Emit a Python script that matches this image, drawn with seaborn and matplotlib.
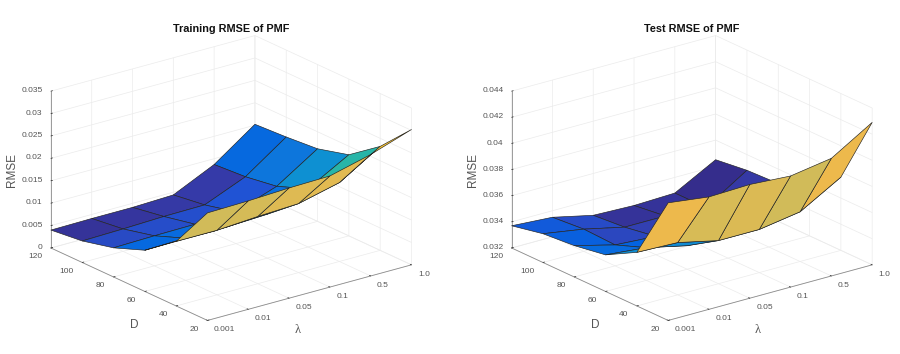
import numpy as np
import seaborn as sns
import matplotlib
matplotlib.use('Agg')
import matplotlib.pyplot as plt
from matplotlib.transforms import ScaledTranslation

lambda_labels = ['0.001', '0.01', '0.05', '0.1', '0.5', '1.0']
d_values = [20, 40, 60, 80, 100, 120]

# one row per D, one column per lambda
train_rmse = [
    [0.0240, 0.0242, 0.0246, 0.0248, 0.0271, 0.0302],
    [0.0144, 0.0144, 0.0150, 0.0154, 0.0176, 0.0232],
    [0.0092, 0.0094, 0.0094, 0.0098, 0.0130, 0.0181],
    [0.0065, 0.0067, 0.0068, 0.0071, 0.0103, 0.0162],
    [0.0048, 0.0050, 0.0053, 0.0054, 0.0092, 0.0156],
    [0.0040, 0.0041, 0.0041, 0.0044, 0.0087, 0.0152],
]
test_rmse = [
    [0.0410, 0.0406, 0.0407, 0.0405, 0.0410, 0.0429],
    [0.0361, 0.0360, 0.0353, 0.0353, 0.0358, 0.0376],
    [0.0348, 0.0345, 0.0338, 0.0338, 0.0345, 0.0355],
    [0.0344, 0.0336, 0.0334, 0.0332, 0.0332, 0.0349],
    [0.0342, 0.0337, 0.0330, 0.0330, 0.0328, 0.0348],
    [0.0337, 0.0335, 0.0328, 0.0327, 0.0328, 0.0345],
]
train_zticks = [0, 0.005, 0.01, 0.015, 0.02, 0.025, 0.03, 0.035]
train_zlabels = ['0', '0.005', '0.01', '0.015', '0.02', '0.025', '0.03', '0.035']
test_zticks = [0.032, 0.034, 0.036, 0.038, 0.04, 0.042, 0.044]
test_zlabels = ['0.032', '0.034', '0.036', '0.038', '0.04', '0.042', '0.044']

parula_colors = [
    (0.2081, 0.1663, 0.5292), (0.2081, 0.2386, 0.6771), (0.1253, 0.3242, 0.8303),
    (0.0117, 0.3875, 0.8820), (0.0498, 0.4586, 0.8641), (0.0793, 0.5200, 0.8312),
    (0.0488, 0.5772, 0.8228), (0.0231, 0.6418, 0.7913), (0.0590, 0.6838, 0.7254),
    (0.1801, 0.7177, 0.6424), (0.3482, 0.7424, 0.5473), (0.5300, 0.7491, 0.4661),
    (0.6834, 0.7435, 0.4044), (0.8185, 0.7327, 0.3498), (0.9450, 0.7261, 0.2886),
    (0.9955, 0.7861, 0.1967), (0.9626, 0.8705, 0.1309), (0.9763, 0.9831, 0.0538),
]

sns.set_style('white')
plt.rcParams['font.family'] = ['Liberation Sans', 'DejaVu Sans']
parula = sns.blend_palette(parula_colors, n_colors=64, as_cmap=True)

fig = plt.figure(figsize=(9, 3.54), dpi=100)
FW, FH = 900.0, 354.0
W = 324.0
GRAY = '#555555'
TICK = 6.0


def nudge(axis, dx, dy):
    # move tick labels by a few pixels, the 3d axis only lets them slide along the tick
    shift = ScaledTranslation(dx / 100.0, dy / 100.0, fig.dpi_scale_trans)
    for tick in axis.get_major_ticks():
        tick.label1.set_transform(tick.label1.get_transform() + shift)


def draw_panel(cx, cy, values, zticks, zlabels, title):
    ax = fig.add_axes([(cx - 0.5135 * W) / FW, (FH - cy - 0.5135 * W) / FH, W / FW, W / FH],
                      projection='3d', proj_type='ortho')
    ax.set_box_aspect((257.5, 257.5, 168), zoom=1.2)
    ax.view_init(elev=20.8, azim=-127.5)
    ax.patch.set_alpha(0)

    z = np.array(values)
    x, y = np.meshgrid(np.arange(len(lambda_labels)), d_values)
    shades = (z - z.min()) / (z.max() - z.min())
    surf = ax.plot_surface(x, y, z, facecolors=parula(shades), rstride=1, cstride=1, shade=False,
                           edgecolor='#222222', linewidth=0.45, antialiased=True)
    surf.set_clip_on(False)

    ax.set_xlim(0, 5)
    ax.set_ylim(20, 120)
    ax.set_zlim(zticks[0], zticks[-1])
    ax.set_xticks(np.arange(len(lambda_labels)))
    ax.set_xticklabels(lambda_labels, fontsize=TICK, color=GRAY, ha='left', va='center')
    ax.set_yticks(d_values)
    ax.set_yticklabels([str(d) for d in d_values], fontsize=TICK, color=GRAY, ha='right', va='center')
    ax.set_zticks(zticks)
    ax.set_zticklabels(zlabels, fontsize=TICK, color=GRAY, ha='right', va='center')
    ax.tick_params(axis='x', pad=-3)
    ax.tick_params(axis='y', pad=-3)
    ax.tick_params(axis='z', pad=-5.2)
    nudge(ax.xaxis, 3, 2)
    nudge(ax.zaxis, 0, 1.5)

    for axis in (ax.xaxis, ax.yaxis, ax.zaxis):
        axis.set_pane_color((1, 1, 1, 0))
        axis.pane.set_edgecolor((1, 1, 1, 0))
        axis.line.set_color('#8c8c8c')
        axis.line.set_linewidth(0.6)
        axis._axinfo['grid'].update(color='#ebebeb', linewidth=0.5)
        axis._axinfo['tick'].update(inward_factor=0.0, outward_factor=0.1)
        axis._axinfo['tick']['linewidth'] = {True: 0.5, False: 0.5}
        axis._axinfo['tick']['color'] = '#8c8c8c'
    ax.zaxis.set_ticks_position('upper')

    fig.text((cx + 66) / FW, 1 - 330 / FH, '\u03bb', fontsize=9, color=GRAY, family='Liberation Serif',
             ha='center', va='center')
    fig.text((cx - 97) / FW, 1 - 325 / FH, 'D', fontsize=8.5, color=GRAY, ha='center', va='center')
    fig.text((cx - 219) / FW, 1 - 170 / FH, 'RMSE', fontsize=8.5, color=GRAY, rotation=90,
             ha='center', va='center')
    fig.text(cx / FW, 1 - 29 / FH, title, ha='center', va='center', fontsize=7.8, fontweight='bold', color='#111111')
    return ax


draw_panel(231.2, 178, train_rmse, train_zticks, train_zlabels, 'Training RMSE of PMF')
draw_panel(691.9, 178, test_rmse, test_zticks, test_zlabels, 'Test RMSE of PMF')

plt.savefig('out.png', dpi=100)
